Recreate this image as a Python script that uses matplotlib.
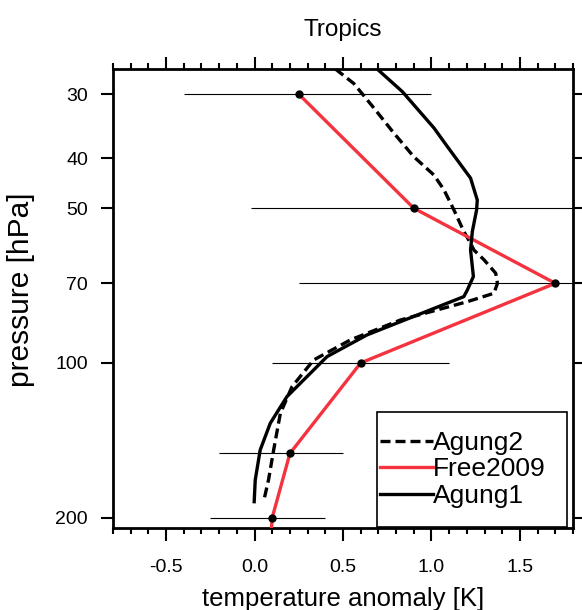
import numpy as np
import matplotlib
matplotlib.use("Agg")
import matplotlib.pyplot as plt
from matplotlib.ticker import FixedLocator, MultipleLocator, NullLocator
from matplotlib.patches import Rectangle

plt.rcParams['font.family'] = ['Liberation Sans', 'DejaVu Sans']

# Free2009 observations with error range
free_p = [30, 50, 70, 100, 150, 200, 250]
free_t = [0.25, 0.9, 1.7, 0.6, 0.2, 0.1, 0.08]
err_p = [30, 50, 70, 100, 150, 200]
err_lo = [-0.40, -0.02, 0.25, 0.10, -0.20, -0.25]
err_hi = [1.00, 1.90, 3.15, 1.10, 0.50, 0.40]
dot_p = [30, 50, 70, 100, 150, 200]
dot_t = [0.25, 0.9, 1.7, 0.6, 0.2, 0.1]

# Agung1 (solid)
ag1_p = [26.8, 29.65, 34.9, 37.9, 43.7, 48.2, 50.4, 55.5, 60.3, 67.9, 72.1, 74.3,
         88.2, 97.2, 116.3, 131.0, 147.7, 168.9, 186.2]
ag1_t = [0.693, 0.835, 1.014, 1.089, 1.221, 1.259, 1.255, 1.231, 1.221, 1.237, 1.203, 1.183,
         0.636, 0.410, 0.183, 0.089, 0.032, 0.004, -0.002]

# Agung2 (dashed)
ag2_p = [26.8, 28.6, 31.9, 35.7, 39.7, 43.1, 46.0, 50.4, 55.5, 58.5, 60.3, 63.0, 66.9, 70.0,
         73.2, 76.0, 82.5, 90.2, 98.7, 111.2, 125.3, 147.7, 168.9, 186.2]
ag2_t = [0.457, 0.561, 0.674, 0.787, 0.900, 1.014, 1.070, 1.127, 1.183, 1.221, 1.240, 1.297,
         1.363, 1.373, 1.353, 1.203, 0.825, 0.542, 0.334, 0.212, 0.146, 0.108, 0.079, 0.051]

yticks = [30, 40, 50, 70, 100, 200]
xticks = [-0.5, 0.0, 0.5, 1.0, 1.5]

W, H = 582, 610
fig = plt.figure(figsize=(W/100, H/100), dpi=100)
ax = fig.add_axes([113/W, 1-528/H, 460/W, 459/H])

red = '#F5333F'
ax.hlines(err_p, err_lo, err_hi, color='black', lw=0.8, zorder=2)
l2, = ax.plot(ag2_t, ag2_p, color='black', lw=2.4, ls=(0, (3, 1.5)), zorder=3, label='Agung2')
lf, = ax.plot(free_t, free_p, color=red, lw=2.4, zorder=3, label='Free2009')
l1, = ax.plot(ag1_t, ag1_p, color='black', lw=2.4, zorder=3, label='Agung1')
ax.plot(dot_t, dot_p, 'o', color='black', ms=5, zorder=4)

ax.set_yscale('log')
ax.set_ylim(209.5, 26.8)
ax.set_xlim(-0.8, 1.8)
ax.yaxis.set_major_locator(FixedLocator(yticks))
ax.yaxis.set_minor_locator(NullLocator())
ax.set_yticklabels([str(v) for v in yticks])
ax.xaxis.set_major_locator(FixedLocator(xticks))
ax.xaxis.set_minor_locator(MultipleLocator(0.1))
ax.set_xticklabels(['%.1f' % v for v in xticks])

ax.tick_params(which='both', direction='out', top=True, right=True, labelsize=14, width=1.5)
ax.tick_params(which='major', length=9)
ax.tick_params(axis='y', which='major', pad=9)
ax.tick_params(axis='x', which='major', pad=13)
ax.tick_params(which='minor', length=4.5)
for s in ax.spines.values():
    s.set_linewidth(2)

ax.set_xlabel('temperature anomaly [K]', fontsize=18.5, labelpad=8)
ax.set_ylabel('pressure [hPa]', fontsize=21.5)
ax.yaxis.set_label_coords((35-113)/460, (528-290)/459)
ax.set_title('Tropics', fontsize=17.5, pad=24)

# legend frame
ax.add_patch(Rectangle((376.7/W, 1-526.7/H), (566.7-376.7)/W, (526.7-411.7)/H,
                       transform=fig.transFigure, fill=True, facecolor='white',
                       edgecolor='black', lw=1.2, zorder=5, clip_on=False))
leg = ax.legend(handles=[l2, lf, l1], loc='upper left', bbox_to_anchor=(380/W, 1-431/H),
                bbox_transform=fig.transFigure, fontsize=19, frameon=False,
                handlelength=2.0, handletextpad=0.0, labelspacing=0.09,
                borderpad=0, borderaxespad=0)
leg.set_zorder(6)

fig.savefig('out.png', dpi=100)
